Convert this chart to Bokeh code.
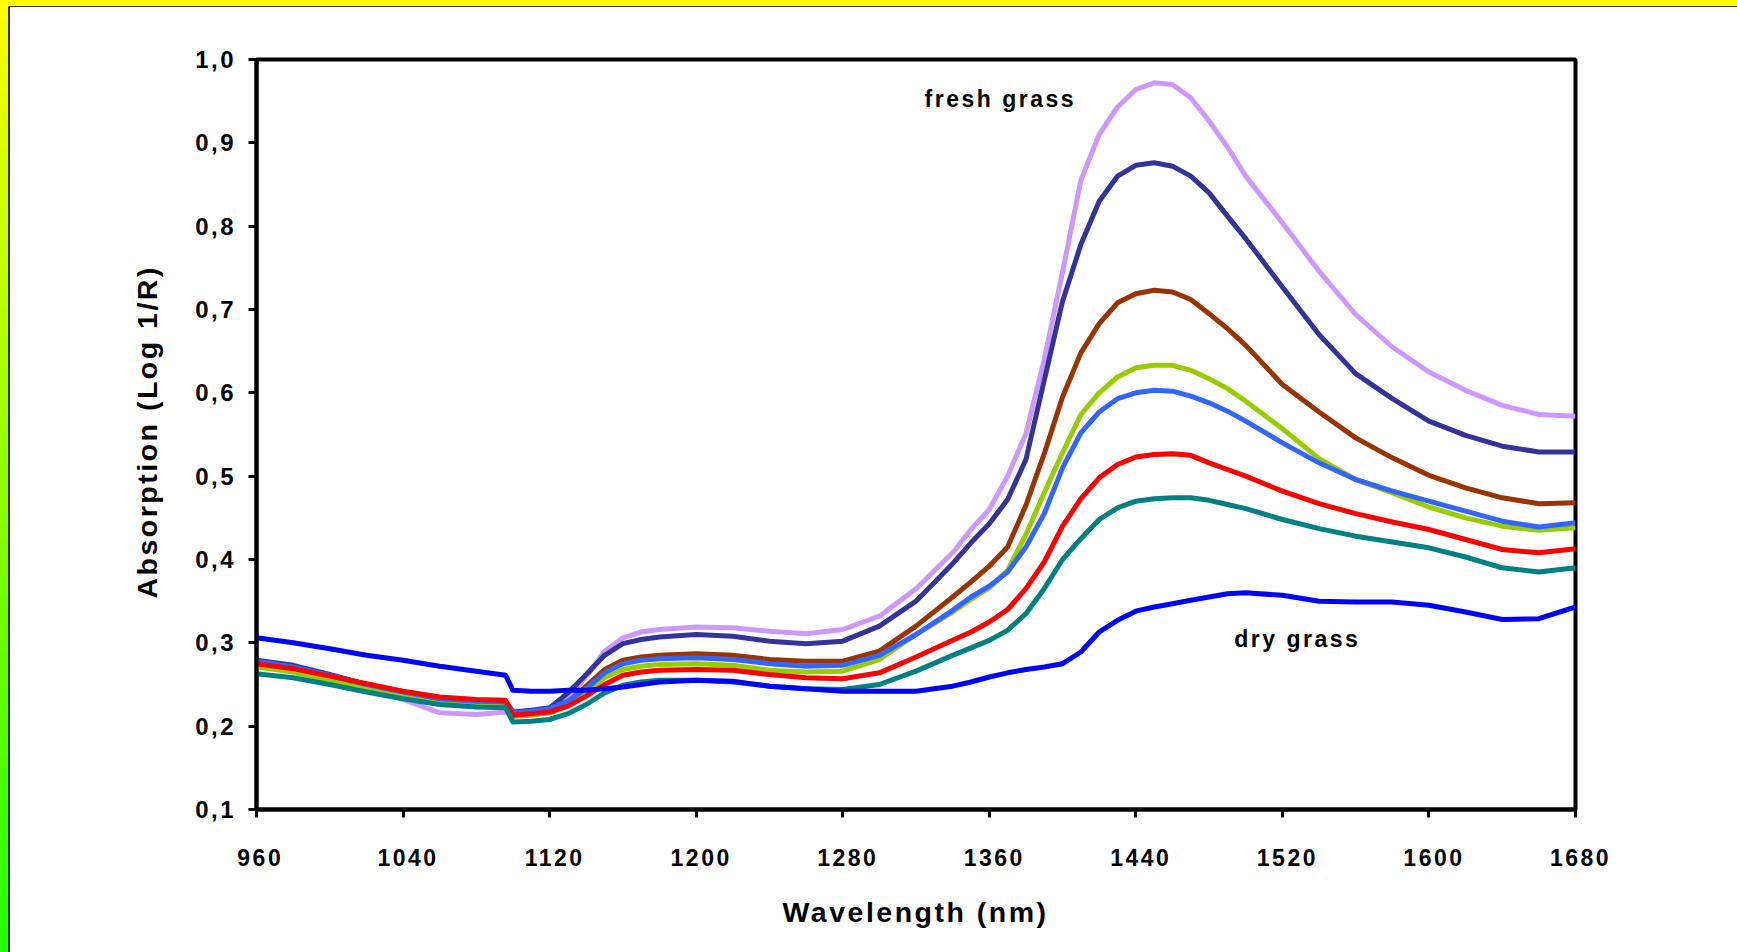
from bokeh.plotting import figure
from bokeh.models import FixedTicker, CustomJSTickFormatter, Label, Range1d, Title
from bokeh.embed import file_html
from bokeh.resources import INLINE

# ---------------- data ----------------
wavelength = [960, 980, 1000, 1020, 1040, 1060, 1080, 1096, 1100, 1110, 1120, 1130, 1140,
              1150, 1160, 1170, 1180, 1200, 1220, 1240, 1260, 1280, 1300, 1320, 1340,
              1350, 1360, 1370, 1380, 1390, 1400, 1410, 1420, 1430, 1440, 1450, 1460,
              1470, 1480, 1490, 1500, 1520, 1540, 1560, 1580, 1600, 1620, 1640, 1660, 1680]

fresh_lavender = [0.273, 0.265, 0.255, 0.245, 0.232, 0.216, 0.214, 0.217, 0.212, 0.214, 0.218, 0.233, 0.260,
                  0.290, 0.306, 0.313, 0.316, 0.319, 0.318, 0.314, 0.311, 0.316, 0.332, 0.365, 0.408,
                  0.436, 0.460, 0.500, 0.551, 0.640, 0.745, 0.855, 0.910, 0.943, 0.964, 0.972, 0.970,
                  0.954, 0.926, 0.895, 0.860, 0.804, 0.746, 0.694, 0.655, 0.625, 0.603, 0.585, 0.574, 0.572]

navy = [0.279, 0.273, 0.262, 0.250, 0.241, 0.233, 0.230, 0.230, 0.217, 0.219, 0.222, 0.240, 0.262,
        0.285, 0.299, 0.304, 0.307, 0.310, 0.308, 0.302, 0.299, 0.302, 0.320, 0.350, 0.395,
        0.420, 0.443, 0.472, 0.520, 0.615, 0.710, 0.778, 0.830, 0.860, 0.873, 0.876, 0.872,
        0.860, 0.840, 0.812, 0.785, 0.727, 0.670, 0.623, 0.593, 0.566, 0.549, 0.536, 0.529, 0.529]

brown = [0.277, 0.270, 0.261, 0.250, 0.241, 0.234, 0.231, 0.230, 0.215, 0.216, 0.219, 0.228, 0.248,
         0.268, 0.279, 0.283, 0.285, 0.287, 0.285, 0.280, 0.278, 0.278, 0.290, 0.320, 0.355,
         0.373, 0.392, 0.415, 0.465, 0.527, 0.595, 0.648, 0.683, 0.708, 0.719, 0.723, 0.721,
         0.712, 0.695, 0.677, 0.657, 0.610, 0.577, 0.546, 0.522, 0.501, 0.486, 0.474, 0.467, 0.468]

yellow_green = [0.271, 0.265, 0.255, 0.245, 0.237, 0.229, 0.226, 0.225, 0.212, 0.213, 0.216, 0.225, 0.240,
                0.258, 0.268, 0.272, 0.274, 0.275, 0.273, 0.267, 0.265, 0.266, 0.280, 0.310, 0.337,
                0.352, 0.366, 0.387, 0.430, 0.480, 0.528, 0.574, 0.600, 0.619, 0.630, 0.633, 0.633,
                0.627, 0.617, 0.605, 0.590, 0.557, 0.521, 0.496, 0.480, 0.463, 0.450, 0.440, 0.435, 0.438]

light_blue = [0.278, 0.271, 0.261, 0.250, 0.241, 0.233, 0.230, 0.229, 0.216, 0.218, 0.221, 0.230, 0.245,
              0.264, 0.275, 0.279, 0.281, 0.282, 0.280, 0.275, 0.272, 0.273, 0.285, 0.310, 0.339,
              0.355, 0.368, 0.385, 0.415, 0.455, 0.510, 0.552, 0.577, 0.593, 0.600, 0.603, 0.602,
              0.596, 0.588, 0.578, 0.566, 0.540, 0.516, 0.496, 0.482, 0.470, 0.458, 0.446, 0.439, 0.444]

red = [0.275, 0.269, 0.260, 0.251, 0.242, 0.235, 0.232, 0.231, 0.213, 0.215, 0.217, 0.224, 0.236,
       0.250, 0.261, 0.265, 0.267, 0.268, 0.267, 0.262, 0.258, 0.257, 0.264, 0.283, 0.303,
       0.313, 0.325, 0.340, 0.365, 0.397, 0.440, 0.473, 0.498, 0.514, 0.523, 0.526, 0.527,
       0.525, 0.516, 0.508, 0.500, 0.482, 0.467, 0.455, 0.445, 0.436, 0.424, 0.412, 0.408, 0.413]

teal = [0.263, 0.258, 0.250, 0.241, 0.233, 0.226, 0.223, 0.222, 0.205, 0.206, 0.208, 0.215, 0.226,
        0.240, 0.249, 0.253, 0.255, 0.255, 0.253, 0.248, 0.245, 0.244, 0.250, 0.266, 0.285,
        0.294, 0.303, 0.315, 0.335, 0.365, 0.400, 0.425, 0.448, 0.462, 0.470, 0.473, 0.474,
        0.474, 0.471, 0.466, 0.461, 0.448, 0.437, 0.428, 0.421, 0.414, 0.403, 0.390, 0.385, 0.390]

dry_blue = [0.306, 0.300, 0.293, 0.285, 0.279, 0.272, 0.266, 0.261, 0.243, 0.242, 0.242, 0.243, 0.243,
            0.245, 0.247, 0.250, 0.253, 0.255, 0.254, 0.248, 0.245, 0.242, 0.242, 0.242, 0.248,
            0.253, 0.259, 0.264, 0.268, 0.271, 0.275, 0.289, 0.313, 0.327, 0.338, 0.343, 0.347,
            0.351, 0.355, 0.359, 0.360, 0.357, 0.350, 0.349, 0.349, 0.345, 0.337, 0.328, 0.329, 0.343]

series_values = [fresh_lavender, navy, brown, yellow_green, light_blue, red, teal, dry_blue]
series_colors = ["#CC99FF", "#333399", "#993300", "#99CC00", "#3366FF", "#FF0000", "#008080", "#0000FF"]

x_ticks = [960, 1040, 1120, 1200, 1280, 1360, 1440, 1520, 1600, 1680]
y_ticks = [0.1, 0.2, 0.3, 0.4, 0.5, 0.6, 0.7, 0.8, 0.9, 1.0]
y_tick_labels = ["0,1", "0,2", "0,3", "0,4", "0,5", "0,6", "0,7", "0,8", "0,9", "1,0"]

FONT = "Liberation Sans"

# ---------------- figure ----------------
p = figure(width=1737, height=952, output_backend="svg", toolbar_location=None,
           x_range=Range1d(960, 1680), y_range=Range1d(0.1, 1.0),
           min_border_left=256, min_border_right=162, min_border_top=59, min_border_bottom=143)

p.border_fill_color = None
p.background_fill_color = "white"
p.outline_line_color = "black"
p.outline_line_width = 4
p.xgrid.grid_line_color = None
p.ygrid.grid_line_color = None

p.styles = {
    "letter-spacing": "2.5px",
    "background-image": "linear-gradient(#ffffff, #ffffff), linear-gradient(#333333, #333333), "
                        "linear-gradient(to bottom, #FFFF00, #22FF00)",
    "background-size": "calc(100% - 10px) calc(100% - 7px), calc(100% - 8px) calc(100% - 6px), 100% 100%",
    "background-position": "right bottom, right bottom, left top",
    "background-repeat": "no-repeat",
}

for vals, col in zip(series_values, series_colors):
    p.line(wavelength, vals, line_color=col, line_width=5, line_join="round")

for ax in (p.xaxis[0], p.yaxis[0]):
    ax.axis_line_width = 4
    ax.axis_line_color = "black"
    ax.major_tick_line_width = 3
    ax.major_tick_line_color = "black"
    ax.major_tick_out = 8
    ax.major_tick_in = 0
    ax.minor_tick_line_color = None
    ax.major_label_text_font = FONT
    ax.major_label_text_font_style = "bold"
    ax.major_label_text_color = "black"

p.xaxis.major_label_text_font_size = "23px"
p.yaxis.major_label_text_font_size = "24px"

p.xaxis.ticker = FixedTicker(ticks=x_ticks)
p.yaxis.ticker = FixedTicker(ticks=y_ticks)
p.yaxis.formatter = CustomJSTickFormatter(
    args=dict(tvals=y_ticks, tlabels=y_tick_labels),
    code="let b = 0; for (let i = 0; i < tvals.length; i++) { if (Math.abs(tvals[i] - tick) < Math.abs(tvals[b] - tick)) b = i; } return tlabels[b];")

p.xaxis.major_label_standoff = 31
p.yaxis.major_label_standoff = 20

# axis titles as side-panel titles (left-aligned with offsets so the letter-spaced text lands centred)
x_title = Title(text="Wavelength (nm)", align="left", offset=526, standoff=50,
                text_font=FONT, text_font_style="bold", text_font_size="28.5px", text_color="black")
p.add_layout(x_title, "below")
y_title = Title(text="Absorption (Log 1/R)", align="left", offset=211, standoff=60,
                text_font=FONT, text_font_style="bold", text_font_size="28.5px", text_color="black")
p.add_layout(y_title, "left")

p.add_layout(Label(x=1358.5, y=0.9525, text="fresh grass", text_align="center", text_baseline="middle",
                   text_font=FONT, text_font_style="bold", text_font_size="23px", text_color="black"))
p.add_layout(Label(x=1522, y=0.305, text="dry grass", text_align="center", text_baseline="middle",
                   text_font=FONT, text_font_style="bold", text_font_size="23px", text_color="black"))

open("out.html", "w").write(file_html(p, INLINE))
